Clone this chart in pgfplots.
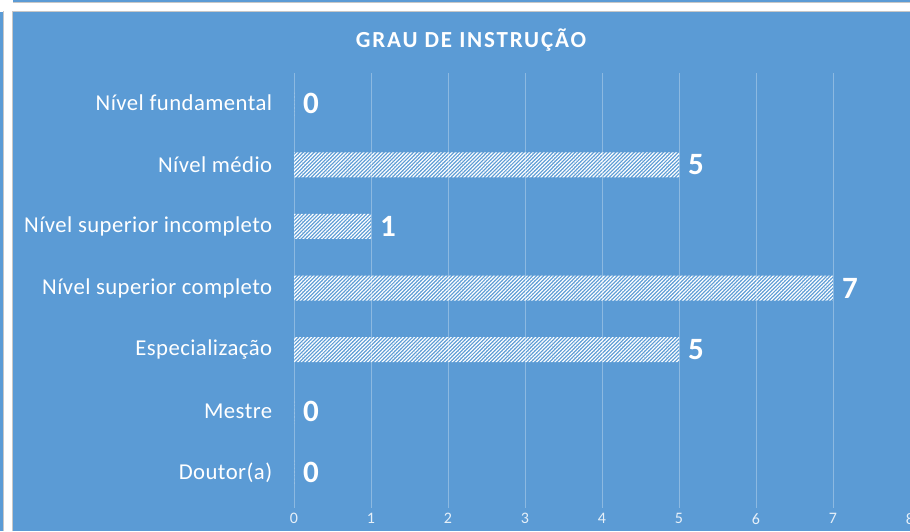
\documentclass[border=0pt]{standalone}
\usepackage{pgfplots}
\pgfplotsset{compat=1.18}
\usepackage{fontspec}
\setmainfont{Carlito}
\usetikzlibrary{patterns.meta}
\definecolor{chartblue}{RGB}{91,155,213}
\begin{document}
\begin{tikzpicture}[x=1pt,y=1pt]
\useasboundingbox (0,0) rectangle (910,531);
\fill[white] (0,0) rectangle (910,531);
\fill[chartblue] (13,0) rectangle (910,519);
\fill[chartblue] (13,529) rectangle (910,531);
\fill[chartblue] (0,0) rectangle (3,519);
\draw[black!22,line width=1pt] (12.5,0) -- (12.5,519.5) -- (910,519.5);
\draw[black!22,line width=1pt] (13,528.5) -- (910,528.5);
\draw[black!22,line width=1pt] (3.5,0) -- (3.5,519.5);
\node[text=white,font={\fontsize{23}{28}\selectfont\bfseries\addfontfeatures{LetterSpace=8}}] at (471,491) {GRAU DE INSTRUÇÃO};
\begin{axis}[
  at={(294pt,23pt)}, anchor=south west,
  scale only axis,
  width=616pt, height=435pt,
  xbar, bar width=25pt,
  xmin=0, xmax=8,
  ymin=-0.57, ymax=6.49,
  xtick={0,1,...,8},
  ytick={0,1,...,6},
  yticklabels={Doutor(a),Mestre,Especialização,Nível superior completo,Nível superior incompleto,Nível médio,Nível fundamental},
  axis line style={draw=none},
  major tick style={draw=none},
  xmajorgrids,
  grid style={white,opacity=0.3,line width=0.8pt},
  /pgf/number format/assume math mode=true,
  xticklabel style={text=white,opacity=0.85,font={\fontsize{16}{18}\selectfont},yshift=-2pt},
  yticklabel style={text=white,font={\fontsize{22.7}{26}\selectfont\addfontfeatures{LetterSpace=2}}, xshift=-14pt},
  nodes near coords,
  nodes near coords style={text=white,font={\fontsize{31}{34}\selectfont\bfseries},anchor=west,inner sep=0pt,xshift=9pt},
]
\addplot[draw=none, pattern={Lines[angle=45,distance=2.6pt,line width=1.2pt]}, pattern color=white] coordinates {
(0,0) (0,1) (5,2) (7,3) (1,4) (5,5) (0,6)
};
\end{axis}
\end{tikzpicture}
\end{document}
